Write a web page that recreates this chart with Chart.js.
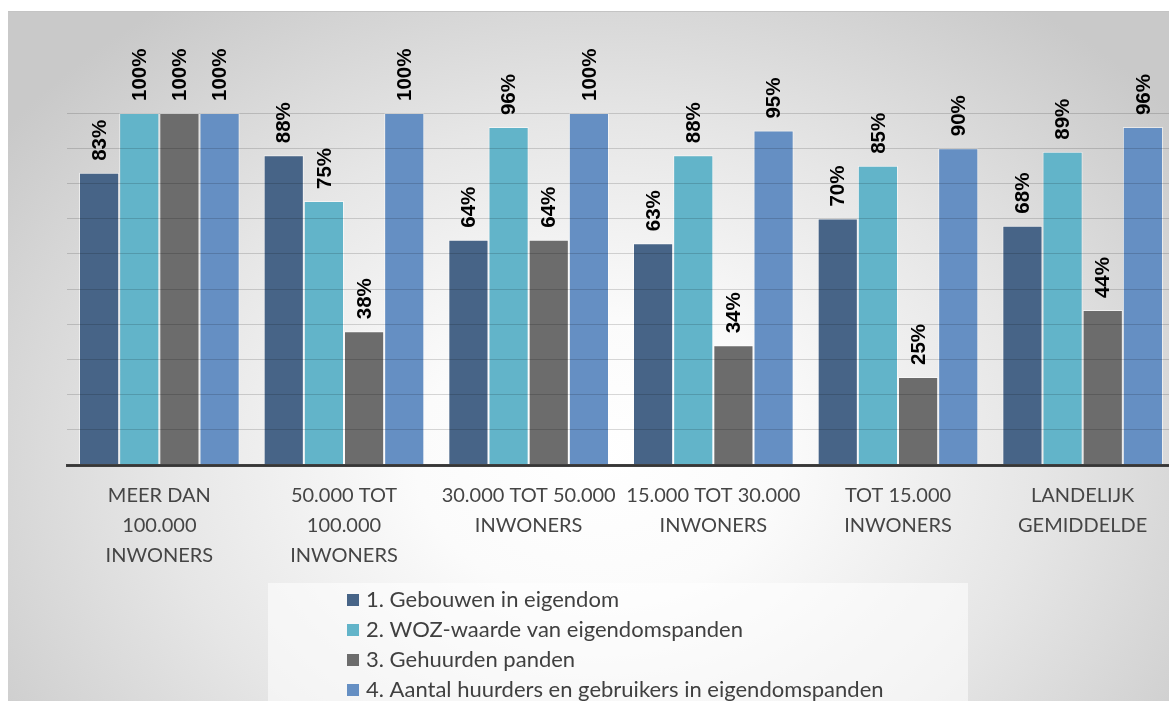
<!DOCTYPE html>
<html>
<head>
<meta charset="utf-8">
<script src="https://cdn.jsdelivr.net/npm/chart.js@4.4.1/dist/chart.umd.min.js"></script>
<style>
  html, body { margin: 0; padding: 0; background: #ffffff; overflow: hidden; }
  #wrap { position: relative; width: 1169px; height: 701px; overflow: hidden; }
  #bg {
    position: absolute; left: 8px; top: 11px; width: 1180px; height: 720px;
    border-top: 1px solid #c4c4c4;
    background: radial-gradient(ellipse 62% 78% at 50% 62%, #ffffff 0%, #fbfbfb 25%, #e6e6e6 60%, #c9c9c9 100%);
  }
  #chart { position: absolute; left: 0; top: 0; }
</style>
</head>
<body>
<div id="wrap">
  <div id="bg"></div>
  <canvas id="chart" width="1185" height="701"></canvas>
</div>
<script>
const categories = [
  ["MEER DAN", "100.000", "INWONERS"],
  ["50.000 TOT", "100.000", "INWONERS"],
  ["30.000 TOT 50.000", "INWONERS"],
  ["15.000 TOT 30.000", "INWONERS"],
  ["TOT 15.000", "INWONERS"],
  ["LANDELIJK", "GEMIDDELDE"]
];
const seriesNames = [
  "1. Gebouwen in eigendom",
  "2. WOZ-waarde van eigendomspanden",
  "3. Gehuurden panden",
  "4. Aantal huurders en gebruikers in eigendomspanden"
];
const gebouwenInEigendom = [83, 88, 64, 63, 70, 68];
const wozWaarde = [100, 75, 96, 88, 85, 89];
const gehuurdePanden = [100, 38, 64, 34, 25, 44];
const huurdersGebruikers = [100, 100, 100, 95, 90, 96];
const seriesColors = ["#476487", "#62b4c9", "#6c6c6c", "#658fc3"];

// Rotated percentage labels above each bar
const valueLabels = {
  id: "valueLabels",
  afterDatasetsDraw(chart) {
    const ctx = chart.ctx;
    ctx.save();
    ctx.fillStyle = "#000000";
    ctx.font = "bold 20.5px 'Liberation Sans'";
    ctx.textAlign = "left";
    ctx.textBaseline = "middle";
    chart.data.datasets.forEach((ds, i) => {
      const meta = chart.getDatasetMeta(i);
      meta.data.forEach((bar, j) => {
        ctx.save();
        ctx.translate(bar.x + 1, bar.y - 12);
        ctx.rotate(-Math.PI / 2);
        ctx.fillText(ds.data[j] + "%", 0, 0);
        ctx.restore();
      });
    });
    ctx.restore();
  }
};

// Stacked legend box below the category labels
const stackedLegend = {
  id: "stackedLegend",
  afterDraw(chart) {
    const ctx = chart.ctx;
    ctx.save();
    ctx.fillStyle = "rgba(255,255,255,0.55)";
    ctx.fillRect(268, 583, 700, 140);
    ctx.font = "22px Lato";
    ctx.textBaseline = "middle";
    ctx.textAlign = "left";
    chart.data.datasets.forEach((ds, i) => {
      const y = 600 + i * 30;
      ctx.fillStyle = ds.backgroundColor;
      ctx.fillRect(347, y - 6, 12, 12);
      ctx.fillStyle = "#404040";
      ctx.fillText(ds.label, 366, y);
    });
    ctx.restore();
  }
};

const allSeries = [gebouwenInEigendom, wozWaarde, gehuurdePanden, huurdersGebruikers];

new Chart(document.getElementById("chart"), {
  type: "bar",
  data: {
    labels: categories,
    datasets: allSeries.map((values, i) => ({
      label: seriesNames[i],
      data: values,
      backgroundColor: seriesColors[i],
      borderColor: "rgba(255,255,255,0.55)",
      borderWidth: 1,
      categoryPercentage: 0.87,
      barPercentage: 1.0
    }))
  },
  options: {
    responsive: false,
    animation: false,
    layout: { padding: { left: 67, right: 10, top: 113, bottom: 114 } },
    plugins: {
      legend: { display: false },
      tooltip: { enabled: false }
    },
    scales: {
      x: {
        grid: { display: false, drawTicks: false },
        border: { display: true, color: "#404040", width: 3, z: 1 },
        ticks: {
          color: "#454545",
          font: { family: "Lato", size: 20, lineHeight: 1.5 },
          padding: 16,
          maxRotation: 0,
          autoSkip: false
        }
      },
      y: {
        min: 0,
        max: 100,
        ticks: { display: false, stepSize: 10 },
        grid: { color: "rgba(0,0,0,0.15)", lineWidth: 1, drawTicks: false, z: 1 },
        border: { display: false }
      }
    }
  },
  plugins: [valueLabels, stackedLegend]
});
</script>
</body>
</html>
